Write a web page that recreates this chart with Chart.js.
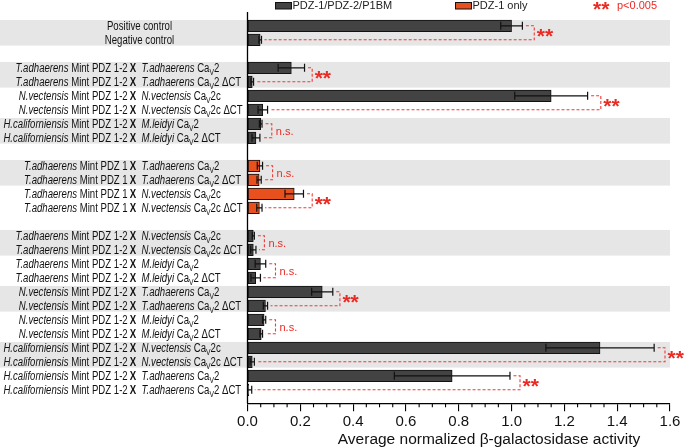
<!DOCTYPE html>
<html><head><meta charset="utf-8">
<script src="https://cdn.jsdelivr.net/npm/chart.js@4.4.0/dist/chart.umd.min.js"></script>
<style>html,body{margin:0;padding:0;background:#fff}#wrap{width:685px;height:448px;position:relative}</style>
</head><body><div id="wrap"><canvas id="c" width="685" height="448"></canvas></div>
<script>
// ---- data ----
// _..._ = italic, ~..~ = subscript
const leftLabels = [
  "Positive control", "Negative control", "",
  "_T.adhaerens_ Mint PDZ 1-2", "_T.adhaerens_ Mint PDZ 1-2",
  "_N.vectensis_ Mint PDZ 1-2", "_N.vectensis_ Mint PDZ 1-2",
  "_H.californiensis_ Mint PDZ 1-2", "_H.californiensis_ Mint PDZ 1-2", "",
  "_T.adhaerens_ Mint PDZ 1", "_T.adhaerens_ Mint PDZ 1",
  "_T.adhaerens_ Mint PDZ 1", "_T.adhaerens_ Mint PDZ 1", "",
  "_T.adhaerens_ Mint PDZ 1-2", "_T.adhaerens_ Mint PDZ 1-2",
  "_T.adhaerens_ Mint PDZ 1-2", "_T.adhaerens_ Mint PDZ 1-2",
  "_N.vectensis_ Mint PDZ 1-2", "_N.vectensis_ Mint PDZ 1-2",
  "_N.vectensis_ Mint PDZ 1-2", "_N.vectensis_ Mint PDZ 1-2",
  "_H.californiensis_ Mint PDZ 1-2", "_H.californiensis_ Mint PDZ 1-2",
  "_H.californiensis_ Mint PDZ 1-2", "_H.californiensis_ Mint PDZ 1-2"
];
const rightLabels = [
  null, null, null,
  "_T.adhaerens_ Ca~V~2", "_T.adhaerens_ Ca~V~2 ΔCT",
  "_N.vectensis_ Ca~V~2c", "_N.vectensis_ Ca~V~2c ΔCT",
  "_M.leidyi_ Ca~V~2", "_M.leidyi_ Ca~V~2 ΔCT", null,
  "_T.adhaerens_ Ca~V~2", "_T.adhaerens_ Ca~V~2 ΔCT",
  "_N.vectensis_ Ca~V~2c", "_N.vectensis_ Ca~V~2c ΔCT", null,
  "_N.vectensis_ Ca~V~2c", "_N.vectensis_ Ca~V~2c ΔCT",
  "_M.leidyi_ Ca~V~2", "_M.leidyi_ Ca~V~2 ΔCT",
  "_T.adhaerens_ Ca~V~2", "_T.adhaerens_ Ca~V~2 ΔCT",
  "_M.leidyi_ Ca~V~2", "_M.leidyi_ Ca~V~2 ΔCT",
  "_N.vectensis_ Ca~V~2c", "_N.vectensis_ Ca~V~2c ΔCT",
  "_T.adhaerens_ Ca~V~2", "_T.adhaerens_ Ca~V~2 ΔCT"
];
const values = [
  1.0, 0.048, null,
  0.166, 0.018, 1.15, 0.058, 0.05, 0.032, null,
  0.047, 0.044, 0.177, 0.045, null,
  0.022, 0.022, 0.049, 0.031, 0.283, 0.068, 0.063, 0.052, 1.335, 0.018, 0.775, 0.005
];
const errors = [
  0.041, 0.005, null,
  0.05, 0.005, 0.138, 0.018, 0.005, 0.015, null,
  0.01, 0.008, 0.035, 0.01, null,
  0.004, 0.01, 0.02, 0.018, 0.04, 0.008, 0.006, 0.005, 0.205, 0.008, 0.219, 0.011
];
// 0 = PDZ-1/PDZ-2/P1BM, 1 = PDZ-1 only
const groups = [
  0, 0, null, 0, 0, 0, 0, 0, 0, null, 1, 1, 1, 1, null,
  0, 0, 0, 0, 0, 0, 0, 0, 0, 0, 0, 0
];
const bandRows = [0, 3, 7, 10, 15, 19, 23];
// [upper row, bracket x value, label]
const brackets = [
  [0, 1.086, "**"], [3, 0.245, "**"], [5, 1.338, "**"], [7, 0.092, "n.s."],
  [10, 0.095, "n.s."], [12, 0.245, "**"], [15, 0.064, "n.s."], [17, 0.106, "n.s."],
  [19, 0.35, "**"], [21, 0.106, "n.s."], [23, 1.581, "**"], [25, 1.032, "**"]
];
const xTickValues = [0, 0.2, 0.4, 0.6, 0.8, 1.0, 1.2, 1.4, 1.6];
const xTickLabels = ["0.0", "0.2", "0.4", "0.6", "0.8", "1.0", "1.2", "1.4", "1.6"];
const seriesNames = ["PDZ-1/PDZ-2/P1BM", "PDZ-1 only"];
const sigLegend = ["**", "p<0.005"];
const xTitle = "Average normalized β-galactosidase activity";

// ---- styles ----
const COLORS = ["#434343", "#e8501e"];
const RED = "#ec2a24";
const SANS = "'Liberation Sans', Arial, sans-serif";
const LBL = 12;       // label font size
const SX = 0.8;       // horizontal compression for condensed label text

const points = [];
values.forEach((v, i) => { if (v !== null) points.push({x: v, y: i}); });

function parseRich(s) {
  const segs = []; let it = false, sub = false, buf = "";
  for (const ch of s) {
    if (ch === "_" || ch === "~") {
      if (buf) segs.push({t: buf, it, sub}); buf = "";
      if (ch === "_") it = !it; else sub = !sub;
    } else buf += ch;
  }
  if (buf) segs.push({t: buf, it, sub});
  return segs;
}
function segFont(sg, bold) {
  return (sg.it ? "italic " : "") + (bold ? "bold " : "") + (sg.sub ? "8.5px " : LBL + "px ") + SANS;
}
function drawSeg(ctx, t, x, y) {
  ctx.save(); ctx.translate(x, y); ctx.scale(SX, 1); ctx.fillText(t, 0, 0); ctx.restore();
}
function drawRich(ctx, s, x, y, align, bold) {
  const segs = parseRich(s);
  let w = 0;
  segs.forEach(sg => { ctx.font = segFont(sg, bold); sg.w = ctx.measureText(sg.t).width * SX; w += sg.w; });
  let cx = align === "right" ? x - w : (align === "center" ? x - w / 2 : x);
  ctx.textAlign = "left"; ctx.textBaseline = "alphabetic";
  segs.forEach(sg => {
    ctx.font = segFont(sg, bold);
    drawSeg(ctx, sg.t, cx, y + (sg.sub ? 6.7 : 4.3));
    cx += sg.w;
  });
}

const decor = {
  id: "decor",
  beforeDatasetsDraw(chart) {
    const {ctx, scales: {x, y}} = chart;
    ctx.save();
    ctx.fillStyle = "#e6e6e6";
    const xr = x.getPixelForValue(1.6);
    bandRows.forEach(i => {
      const t = y.getPixelForValue(i) - 5.8, b = y.getPixelForValue(i + 1) + 5.8;
      ctx.fillRect(0, t, xr, b - t);
    });
    ctx.restore();
  },
  afterDatasetsDraw(chart) {
    const {ctx, scales: {x, y}} = chart;
    ctx.save();
    // error bars
    ctx.strokeStyle = "#111"; ctx.lineWidth = 1.2;
    values.forEach((v, i) => {
      if (v === null) return;
      const e = errors[i];
      const yy = y.getPixelForValue(i);
      const x0 = x.getPixelForValue(Math.max(0, v - e)), x1 = x.getPixelForValue(v + e);
      ctx.beginPath();
      ctx.moveTo(x0, yy); ctx.lineTo(x1, yy);
      ctx.moveTo(x1, yy - 4); ctx.lineTo(x1, yy + 4);
      if (v - e > 0) { ctx.moveTo(x0, yy - 4); ctx.lineTo(x0, yy + 4); }
      ctx.stroke();
    });
    // brackets
    brackets.forEach(([i, xv, lab]) => {
      const yU = y.getPixelForValue(i), yL = y.getPixelForValue(i + 1);
      const xb = x.getPixelForValue(xv);
      const xsU = x.getPixelForValue(values[i] + errors[i]) + 3.5;
      const xsL = x.getPixelForValue(values[i + 1] + errors[i + 1]) + 3;
      ctx.setLineDash([3, 2]); ctx.strokeStyle = "#ef3b36"; ctx.lineWidth = 1.1;
      ctx.beginPath();
      ctx.moveTo(xsU, yU); ctx.lineTo(xb, yU); ctx.lineTo(xb, yL); ctx.lineTo(xsL, yL);
      ctx.stroke(); ctx.setLineDash([]);
      const mid = (yU + yL) / 2;
      ctx.fillStyle = RED; ctx.textAlign = "left"; ctx.textBaseline = "alphabetic";
      if (lab === "**") {
        ctx.font = "bold 21px " + SANS;
        const m = ctx.measureText(lab);
        ctx.fillText(lab, xb + 2.5, mid + (m.actualBoundingBoxAscent - m.actualBoundingBoxDescent) / 2);
      } else {
        ctx.font = "11px " + SANS;
        ctx.fillText(lab, xb + 4, mid + 4);
      }
    });
    ctx.restore();
  },
  afterDraw(chart) {
    const {ctx, scales: {x, y}, chartArea} = chart;
    ctx.save();
    // vertical axis line
    ctx.strokeStyle = "#000"; ctx.lineWidth = 1.3;
    ctx.beginPath(); ctx.moveTo(chartArea.left, chartArea.top); ctx.lineTo(chartArea.left, chartArea.bottom); ctx.stroke();
    // minor ticks
    ctx.lineWidth = 1.1;
    for (let k = 1; k < 32; k++) {
      if (k % 4 === 0) continue;
      const px = x.getPixelForValue(k * 0.05);
      ctx.beginPath(); ctx.moveTo(px, chartArea.bottom); ctx.lineTo(px, chartArea.bottom + 4); ctx.stroke();
    }
    // y labels
    ctx.fillStyle = "#111";
    leftLabels.forEach((l, i) => {
      if (!l) return;
      const yy = y.getPixelForValue(i);
      if (rightLabels[i] === null) { drawRich(ctx, l, 139.5, yy, "center"); return; }
      drawRich(ctx, l, 127.7, yy, "right");
      drawRich(ctx, "X", 133, yy, "center", true);
      drawRich(ctx, rightLabels[i], 141.5, yy, "left");
    });
    // x title
    ctx.fillStyle = "#111"; ctx.font = "15.5px " + SANS; ctx.textAlign = "center"; ctx.textBaseline = "middle";
    ctx.fillText(xTitle, 489, 440);
    // legend
    ctx.lineWidth = 1;
    ctx.fillStyle = COLORS[0]; ctx.strokeStyle = "#111";
    ctx.fillRect(275.5, 2.5, 16, 6.5); ctx.strokeRect(275.5, 2.5, 16, 6.5);
    ctx.fillStyle = COLORS[1];
    ctx.fillRect(455.5, 2.5, 16, 6.5); ctx.strokeRect(455.5, 2.5, 16, 6.5);
    ctx.fillStyle = "#222"; ctx.font = "11px " + SANS; ctx.textAlign = "left"; ctx.textBaseline = "middle";
    ctx.fillText(seriesNames[0], 292.5, 5.5);
    ctx.fillText(seriesNames[1], 472.5, 5.5);
    ctx.fillStyle = RED;
    ctx.fillText(sigLegend[1], 617, 5.5);
    ctx.font = "bold 21px " + SANS; ctx.textBaseline = "alphabetic";
    const m = ctx.measureText(sigLegend[0]);
    ctx.fillText(sigLegend[0], 593, 6.3 + (m.actualBoundingBoxAscent - m.actualBoundingBoxDescent) / 2);
    ctx.restore();
  }
};

new Chart(document.getElementById("c"), {
  type: "bar",
  data: {
    datasets: [{
      data: points,
      backgroundColor: c => COLORS[groups[c.raw ? c.raw.y : 0]],
      borderColor: "#111",
      borderWidth: 1,
      borderSkipped: false,
      barThickness: 11.5
    }]
  },
  options: {
    indexAxis: "y",
    responsive: false,
    animation: false,
    events: [],
    layout: {padding: {left: 247.5, right: 15, top: 12, bottom: 0}},
    plugins: {legend: {display: false}, tooltip: {enabled: false}},
    scales: {
      x: {
        type: "linear", position: "bottom", min: 0, max: 1.6,
        afterFit: s => { s.height = 44.7; },
        ticks: {
          stepSize: 0.2, autoSkip: false, maxRotation: 0, padding: 2, color: "#111",
          font: {family: SANS, size: 15},
          callback: v => { const k = xTickValues.findIndex(t => Math.abs(t - v) < 1e-6); return k >= 0 ? xTickLabels[k] : ""; }
        },
        grid: {drawOnChartArea: false, drawTicks: true, tickLength: 8, color: "#000", lineWidth: 1.1},
        border: {display: true, color: "#000", width: 1.3}
      },
      y: {type: "linear", min: -0.986, max: 26.964, reverse: true, offset: false, display: false}
    }
  },
  plugins: [decor]
});
</script>
</body></html>
